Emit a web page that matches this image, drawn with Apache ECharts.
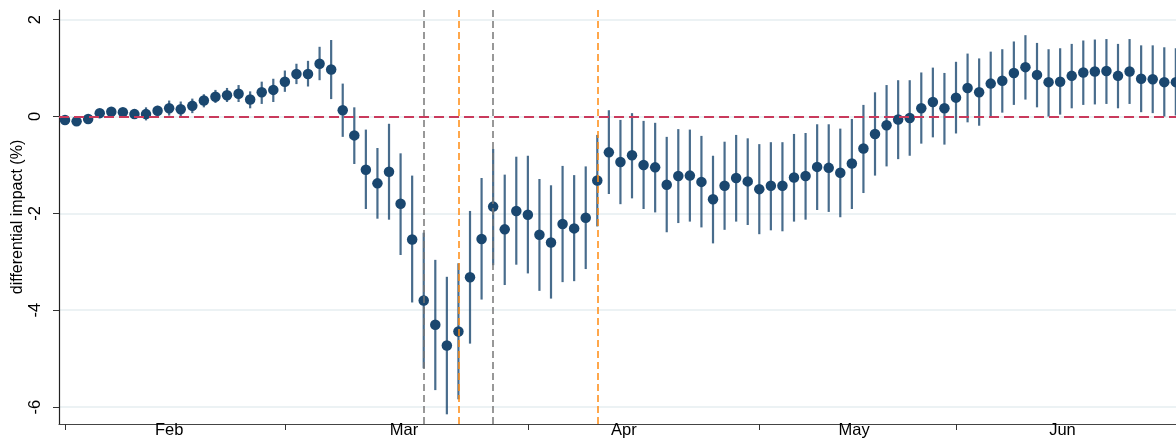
<!DOCTYPE html>
<html>
<head>
<meta charset="utf-8">
<script src="https://cdn.jsdelivr.net/npm/echarts@6/dist/echarts.min.js"></script>
<style>
html,body{margin:0;padding:0;background:#fff;}
#c{width:1176px;height:439px;}
</style>
</head>
<body>
<div id="c"></div>
<script>
// trading-day estimates (index 0 = first trading day of Feb)
const est = [-0.07,-0.10,-0.05,0.07,0.10,0.09,0.05,0.05,0.12,0.17,0.15,0.22,0.33,0.41,0.44,0.47,0.35,0.50,0.55,0.72,
  0.88,0.88,1.09,0.97,0.13,-0.39,-1.10,-1.38,-1.14,-1.80,-2.54,-3.80,-4.30,-4.73,-4.44,-3.32,-2.53,-1.86,-2.33,-1.95,
  -2.03,-2.44,-2.60,-2.22,-2.31,-2.09,-1.32,-0.74,-0.94,-0.80,-1.00,-1.05,-1.41,-1.23,-1.22,-1.35,-1.71,-1.43,-1.27,-1.34,
  -1.50,-1.43,-1.43,-1.26,-1.23,-1.04,-1.06,-1.16,-0.97,-0.66,-0.36,-0.18,-0.06,-0.03,0.17,0.30,0.17,0.39,0.59,0.50,
  0.68,0.74,0.90,1.02,0.86,0.71,0.72,0.84,0.91,0.93,0.94,0.84,0.93,0.78,0.77,0.71,0.71];
const lo = [-0.11,-0.14,-0.09,0.02,0.04,0.02,-0.03,-0.08,0.01,0.02,-0.01,0.07,0.19,0.28,0.30,0.30,0.17,0.26,0.30,0.51,
  0.67,0.62,0.75,0.36,-0.42,-0.98,-1.91,-2.11,-2.13,-2.86,-3.84,-5.20,-5.65,-6.15,-5.84,-4.69,-3.78,-3.07,-3.48,-3.06,
  -3.24,-3.60,-3.76,-3.42,-3.40,-3.15,-2.27,-1.60,-1.81,-1.69,-1.91,-1.98,-2.39,-2.20,-2.17,-2.29,-2.62,-2.34,-2.17,-2.24,
  -2.43,-2.35,-2.37,-2.17,-2.13,-1.93,-1.97,-2.08,-1.91,-1.58,-1.22,-1.03,-0.88,-0.81,-0.56,-0.43,-0.58,-0.35,-0.12,-0.19,
  0.00,0.08,0.24,0.35,0.19,0.00,0.04,0.17,0.24,0.25,0.26,0.17,0.26,0.09,0.07,0.00,0.02];
const hi = [-0.03,-0.06,-0.01,0.12,0.16,0.16,0.13,0.19,0.22,0.33,0.31,0.37,0.46,0.55,0.59,0.65,0.52,0.72,0.78,0.95,
  1.09,1.15,1.44,1.58,0.68,0.19,-0.27,-0.65,-0.15,-0.76,-1.22,-2.40,-2.96,-3.31,-3.03,-1.95,-1.27,-0.67,-1.20,-0.83,
  -0.81,-1.29,-1.42,-1.02,-1.21,-1.03,-0.38,0.13,-0.07,0.07,-0.09,-0.13,-0.42,-0.26,-0.27,-0.40,-0.81,-0.52,-0.38,-0.45,
  -0.57,-0.53,-0.53,-0.36,-0.34,-0.16,-0.16,-0.25,-0.05,0.24,0.50,0.65,0.75,0.75,0.91,1.01,0.90,1.13,1.30,1.20,
  1.34,1.39,1.55,1.68,1.52,1.39,1.41,1.50,1.57,1.59,1.60,1.50,1.60,1.47,1.47,1.43,1.41];

const monthTicks = [0, 19, 40, 60, 77];
const monthLabelPos = [9, 29.3, 48.3, 68.2, 86.2];
const monthNames = ['Feb', 'Mar', 'Apr', 'May', 'Jun'];
const yTicks = [-6, -4, -2, 0, 2];
const grayLines = [31, 37];
const orangeLines = [34, 46];

const pts = est.map((v, i) => [i, v]);
const bars = est.map((v, i) => [i, lo[i], hi[i]]);
const navy = '#1a476f';
const font = '"Liberation Sans", Arial, sans-serif';

const chart = echarts.init(document.getElementById('c'), null, {renderer: 'canvas'});
chart.setOption({
  animation: false,
  backgroundColor: '#fff',
  grid: {left: 59, right: -23, top: 10, bottom: 15, containLabel: false, outerBoundsMode: 'none'},
  xAxis: {
    type: 'value', min: -0.52, max: 98,
    axisLine: {show: true, onZero: false, lineStyle: {color: '#444', width: 1.2}},
    axisTick: {show: true, length: 6, customValues: monthTicks, lineStyle: {color: '#333', width: 1}},
    axisLabel: {
      customValues: monthLabelPos, margin: -2, color: '#000', fontSize: 16.5, fontFamily: font,
      formatter: function (v) {
        for (let k = 0; k < monthLabelPos.length; k++) if (Math.abs(monthLabelPos[k] - v) < 1e-6) return monthNames[k];
        return '';
      }
    },
    splitLine: {show: false}
  },
  yAxis: {
    type: 'value', min: -6.35, max: 2.2,
    name: 'differential impact (%)', nameLocation: 'middle', nameGap: 33, nameMoveOverlap: false,
    nameTextStyle: {color: '#000', fontSize: 16, fontFamily: font},
    axisLine: {show: true, onZero: false, lineStyle: {color: '#222', width: 1.2}},
    axisTick: {show: true, length: 6, customValues: yTicks, lineStyle: {color: '#333', width: 1}},
    axisLabel: {customValues: yTicks, rotate: 90, margin: 15, color: '#000', fontSize: 16.5, fontFamily: font},
    splitLine: {show: true, lineStyle: {color: '#e6eef0', width: 1.5}}
  },
  series: [
    {
      type: 'line', data: [], silent: true, z: 1,
      markLine: {
        silent: true, symbol: 'none', label: {show: false},
        data: [
          {yAxis: 0, lineStyle: {color: '#c93a5c', width: 2, type: [10, 5]}}
        ].concat(grayLines.map(x => ({xAxis: x, lineStyle: {color: '#777', width: 1.5, type: [7, 4]}})))
         .concat(orangeLines.map(x => ({xAxis: x, lineStyle: {color: '#ff8a10', width: 1.5, type: [7, 4]}})))
      }
    },
    {
      type: 'custom', z: 2, data: bars, silent: true,
      renderItem: function (params, api) {
        const x = api.value(0);
        const a = api.coord([x, api.value(1)]);
        const b = api.coord([x, api.value(2)]);
        return {type: 'line', shape: {x1: a[0], y1: a[1], x2: b[0], y2: b[1]},
          style: {stroke: navy, lineWidth: 2.2, opacity: 0.8}};
      },
      encode: {x: 0, y: [1, 2]}
    },
    {
      type: 'scatter', z: 3, data: pts, symbol: 'circle', symbolSize: 10.5, clip: false,
      itemStyle: {color: navy, opacity: 1}
    }
  ]
});
</script>
</body>
</html>
